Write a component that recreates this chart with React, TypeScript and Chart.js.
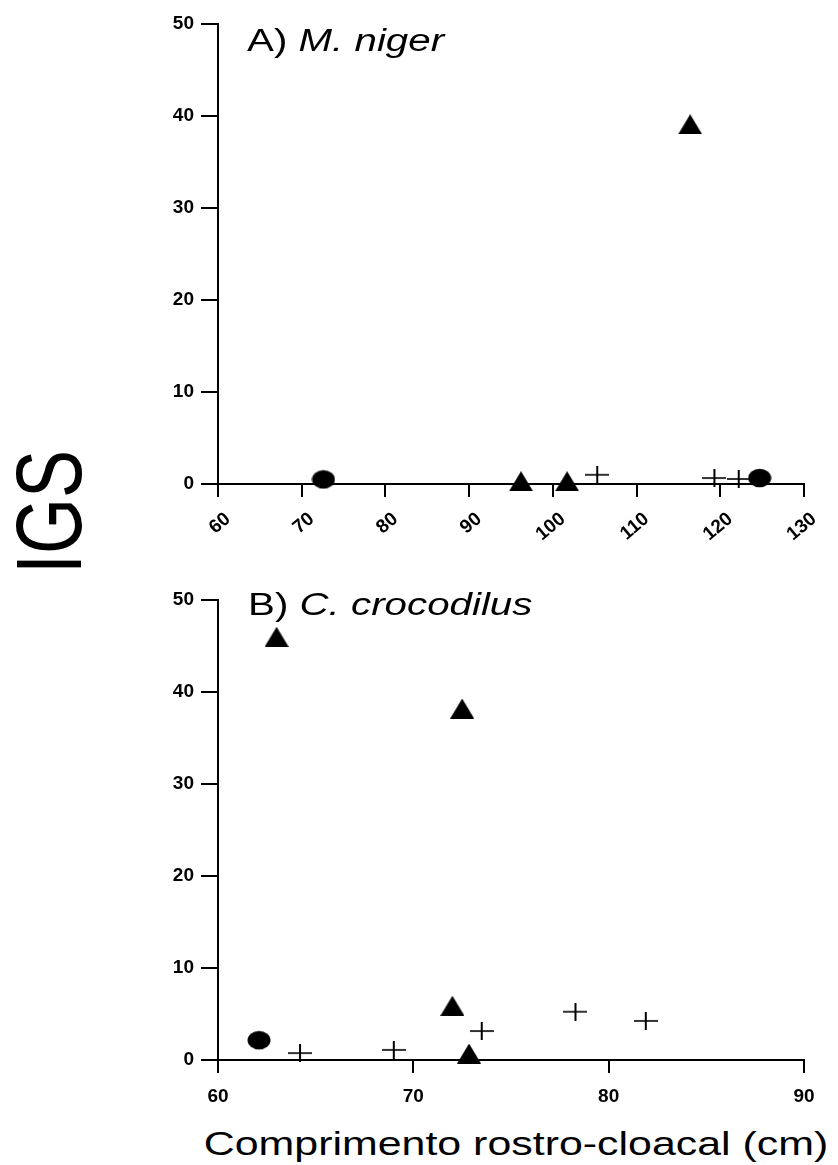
import React, { useEffect, useRef } from 'react';
import { Chart, registerables } from 'chart.js';

Chart.register(...registerables);

// ---------- DATA ----------
// Panel A) M. niger
const nigerXRange = [60, 130];
const nigerCircleX = [72.6, 124.7];
const nigerCircleY = [0.5, 0.65];
const nigerTriangleX = [96.2, 101.7, 116.4];
const nigerTriangleY = [0.3, 0.3, 39.1];
const nigerPlusX = [105.3, 119.3, 122.2];
const nigerPlusY = [1.0, 0.65, 0.55];

// Panel B) C. crocodilus
const crocXRange = [60, 90];
const crocCircleX = [62.1];
const crocCircleY = [2.15];
const crocTriangleX = [63.0, 72.5, 72.0, 72.85];
const crocTriangleY = [46.0, 38.2, 5.9, 0.7];
const crocPlusX = [64.2, 69.0, 73.5, 78.3, 81.9];
const crocPlusY = [0.75, 1.1, 3.15, 5.25, 4.25];

const yRange = [0, 50];
const tickStep = 10;

const yTitle = 'IGS';
const xTitle = 'Comprimento rostro-cloacal (cm)';

// ---------- MARKERS ----------
function makeCircle(): HTMLCanvasElement {
  const c = document.createElement('canvas');
  c.width = 24; c.height = 20;
  const g = c.getContext('2d')!;
  g.fillStyle = '#000';
  g.beginPath();
  g.ellipse(12, 10, 11.5, 9.2, 0, 0, Math.PI * 2);
  g.fill();
  return c;
}
function makeTriangle(): HTMLCanvasElement {
  const c = document.createElement('canvas');
  c.width = 24; c.height = 20;
  const g = c.getContext('2d')!;
  g.fillStyle = '#000';
  g.beginPath();
  g.moveTo(12, 0);
  g.lineTo(24, 20);
  g.lineTo(0, 20);
  g.closePath();
  g.fill();
  return c;
}
function makePlus(): HTMLCanvasElement {
  const c = document.createElement('canvas');
  c.width = 24; c.height = 18;
  const g = c.getContext('2d')!;
  g.strokeStyle = '#000';
  g.lineWidth = 1.6;
  g.beginPath();
  g.moveTo(0, 9); g.lineTo(24, 9);
  g.stroke();
  g.lineWidth = 2;
  g.beginPath();
  g.moveTo(12, 0); g.lineTo(12, 18);
  g.stroke();
  return c;
}

const pts = (xs: number[], ys: number[]) => xs.map((x, i) => ({ x, y: ys[i] }));

type PanelProps = {
  top: number;
  height: number;
  padTop: number;
  xHeight: number;
  xRange: number[];
  rotation: number;
  labelPad: number;
  labelOffset: number;
  circle: [number[], number[]];
  triangle: [number[], number[]];
  plus: [number[], number[]];
};

function Panel(p: PanelProps) {
  const ref = useRef<HTMLCanvasElement | null>(null);
  useEffect(() => {
    if (!ref.current) return;
    const circleImg = makeCircle();
    const triImg = makeTriangle();
    const plusImg = makePlus();
    const tickFont = { family: "'Liberation Sans', Arial, sans-serif", size: 19, weight: 'bold' as const };
    const chart = new Chart(ref.current, {
      type: 'scatter',
      data: {
        datasets: [
          { data: pts(p.circle[0], p.circle[1]), pointStyle: circleImg as any, pointRadius: 12, clip: false as any, backgroundColor: '#000', borderColor: '#000' },
          { data: pts(p.triangle[0], p.triangle[1]), pointStyle: triImg as any, pointRadius: 12, clip: false as any, backgroundColor: '#000', borderColor: '#000' },
          { data: pts(p.plus[0], p.plus[1]), pointStyle: plusImg as any, pointRadius: 12, clip: false as any, backgroundColor: '#000', borderColor: '#000' },
        ],
      },
      options: {
        animation: false,
        responsive: true,
        maintainAspectRatio: false,
        events: [],
        layout: { padding: { top: p.padTop, right: 34, left: 0, bottom: 0 } },
        plugins: { legend: { display: false }, tooltip: { enabled: false } },
        scales: {
          x: {
            type: 'linear',
            min: p.xRange[0],
            max: p.xRange[1],
            ticks: {
              stepSize: tickStep,
              autoSkip: false,
              minRotation: p.rotation,
              maxRotation: p.rotation,
              padding: p.labelPad,
              labelOffset: p.labelOffset,
              color: '#000',
              font: tickFont,
            },
            grid: { drawOnChartArea: false, drawTicks: true, tickLength: 13, color: '#000', lineWidth: 2 },
            border: { display: true, color: '#000', width: 2 },
            afterFit: (s: any) => { s.height = p.xHeight; },
          },
          y: {
            type: 'linear',
            min: yRange[0],
            max: yRange[1],
            ticks: { stepSize: tickStep, padding: 7, color: '#000', font: tickFont },
            grid: { drawOnChartArea: false, drawTicks: true, tickLength: 17, color: '#000', lineWidth: 2 },
            border: { display: true, color: '#000', width: 2 },
            afterFit: (s: any) => { s.width = 218; },
          },
        },
      },
    });
    return () => chart.destroy();
  }, []);
  return (
    <div style={{ position: 'absolute', left: 0, top: p.top, width: 838, height: p.height }}>
      <canvas ref={ref} />
    </div>
  );
}

const font = "'Liberation Sans', Arial, sans-serif";

export default function App() {
  return (
    <div style={{ position: 'absolute', left: 0, top: 0, width: 838, height: 1165, background: '#fff', fontFamily: font, color: '#000', overflow: 'hidden' }}>
      <Panel
        top={0} height={560} padTop={24} xHeight={76}
        xRange={nigerXRange} rotation={40} labelPad={11} labelOffset={10}
        circle={[nigerCircleX, nigerCircleY]}
        triangle={[nigerTriangleX, nigerTriangleY]}
        plus={[nigerPlusX, nigerPlusY]}
      />
      <Panel
        top={560} height={560} padTop={40} xHeight={60}
        xRange={crocXRange} rotation={0} labelPad={12} labelOffset={0}
        circle={[crocCircleX, crocCircleY]}
        triangle={[crocTriangleX, crocTriangleY]}
        plus={[crocPlusX, crocPlusY]}
      />
      <div style={{ position: 'absolute', left: 247, top: 25, fontSize: 31, lineHeight: '31px', whiteSpace: 'nowrap', transform: 'scaleX(1.3)', transformOrigin: '0 0' }}>
        A) <i>M. niger</i>
      </div>
      <div style={{ position: 'absolute', left: 248, top: 589, fontSize: 31, lineHeight: '31px', whiteSpace: 'nowrap', transform: 'scaleX(1.3)', transformOrigin: '0 0' }}>
        B) <i>C. crocodilus</i>
      </div>
      <div style={{ position: 'absolute', left: 48.5, top: 511.5, width: 0, height: 0 }}>
        <div style={{ position: 'absolute', left: -100, top: -36, width: 200, height: 72, fontSize: 72, lineHeight: '72px', textAlign: 'center', whiteSpace: 'nowrap', transform: 'scaleX(1.3) rotate(-90deg)', transformOrigin: '50% 50%' }}>
          {yTitle}
        </div>
      </div>
      <div style={{ position: 'absolute', left: 516, top: 1127, fontSize: 33, lineHeight: '33px', whiteSpace: 'nowrap', transform: 'translateX(-50%) scaleX(1.3)' }}>
        {xTitle}
      </div>
    </div>
  );
}
